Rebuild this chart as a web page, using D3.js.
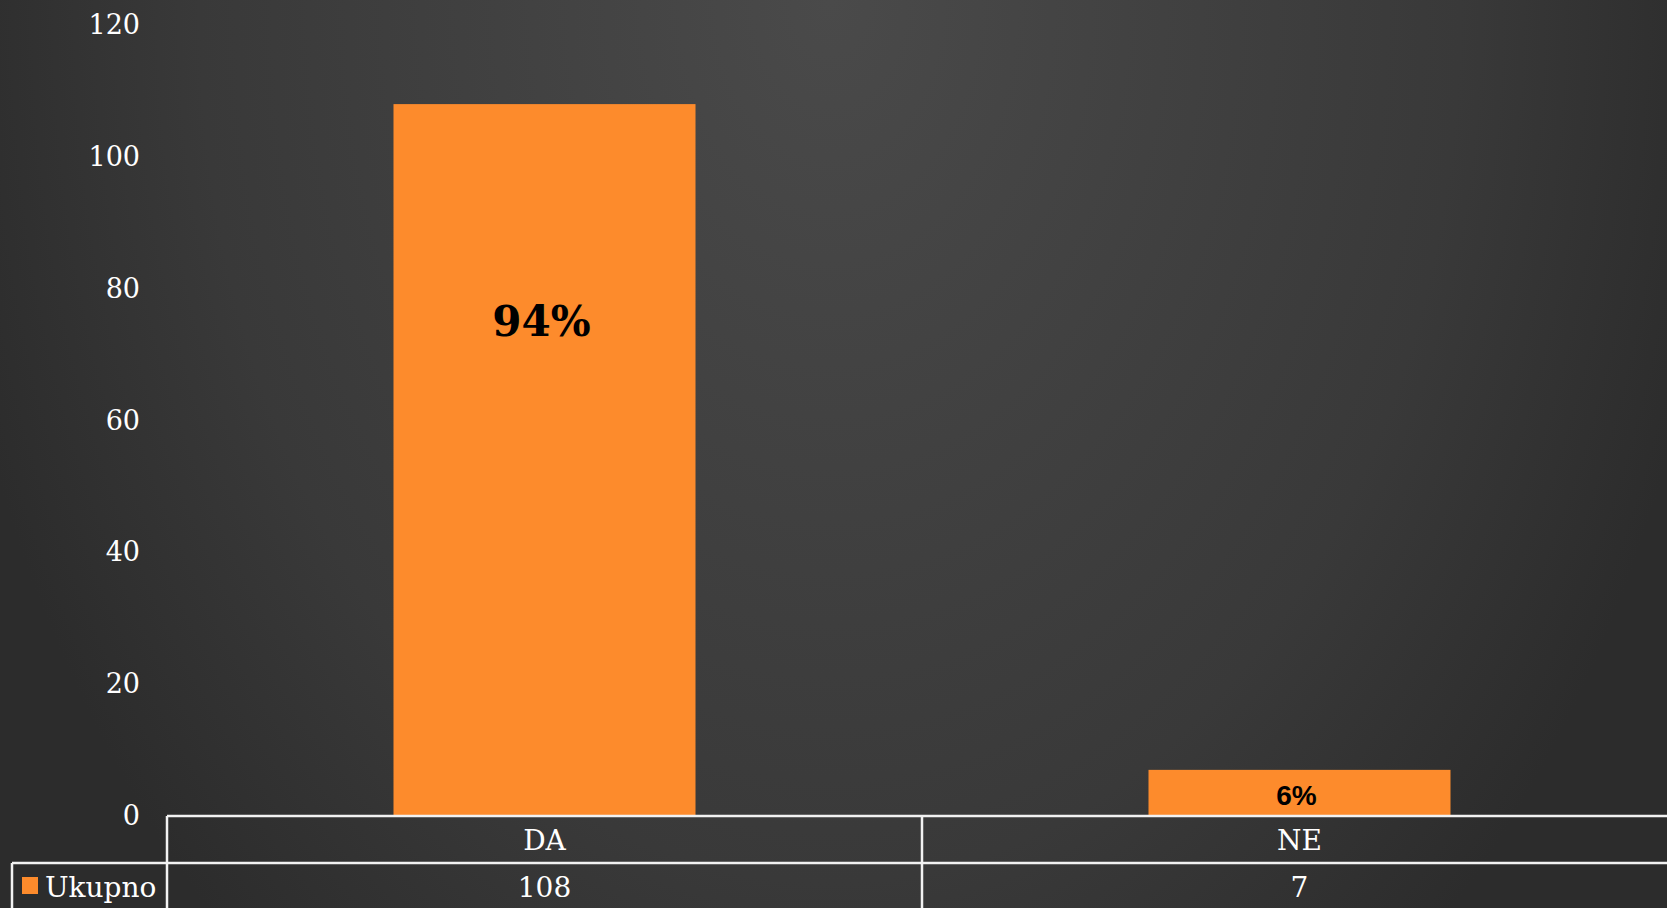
<!DOCTYPE html>
<html>
<head>
<meta charset="utf-8">
<script src="https://cdn.jsdelivr.net/npm/d3@7"></script>
<style>
  html, body { margin: 0; padding: 0; overflow: hidden; background: #333; }
  svg { display: block; }
</style>
</head>
<body>
<div id="chart"></div>
<script>
'use strict';

// data
var categories = ['DA', 'NE'];
var values = [108, 7];
var percents = ['94%', '6%'];
var seriesName = 'Ukupno';
var yTicks = [0, 20, 40, 60, 80, 100, 120];

var width = 1667, height = 908,
    serif = '"DejaVu Serif", serif',
    orange = '#fd8b2c',
    lineColor = '#f2f2f2';

var svg = d3.select('#chart').append('svg')
    .attr('width', width)
    .attr('height', height);

// background, lighter at the top centre, stretched downwards
var grad = svg.append('defs').append('radialGradient')
    .attr('id', 'bg')
    .attr('gradientUnits', 'userSpaceOnUse')
    .attr('cx', 830).attr('cy', 0).attr('r', 900)
    .attr('gradientTransform', 'translate(830,0) scale(1,1.4) translate(-830,0)');
grad.append('stop').attr('offset', '0%').attr('stop-color', '#4a4a4a');
grad.append('stop').attr('offset', '70%').attr('stop-color', '#393939');
grad.append('stop').attr('offset', '100%').attr('stop-color', '#2c2c2c');
svg.append('rect').attr('width', width).attr('height', height).attr('fill', 'url(#bg)');

var x = d3.scaleBand().domain(categories).range([167, 1677]).padding(0),
    y = d3.scaleLinear().domain([0, 120]).range([816, 25]),
    barW = x.bandwidth() * 0.4;

// ================ y axis labels
var yAxis = svg.append('g')
    .attr('transform', 'translate(140,0)')
    .call(d3.axisLeft(y).tickValues(yTicks).tickSize(0).tickPadding(0));
yAxis.select('.domain').remove();
yAxis.selectAll('text')
    .attr('fill', '#ffffff')
    .attr('font-family', serif)
    .attr('font-size', '27px');

// ================ bars
var bars = svg.selectAll('g.bar').data(values).enter()
    .append('g').attr('class', 'bar');
bars.append('rect')
    .attr('x', function(d, i){ return x(categories[i]) + (x.bandwidth() - barW) / 2; })
    .attr('y', function(d){ return y(d); })
    .attr('width', barW)
    .attr('height', function(d){ return y(0) - y(d); })
    .attr('fill', orange);
bars.append('text')
    .attr('x', function(d, i){ return x(categories[i]) + x.bandwidth() / 2 - 3; })
    .attr('y', function(d, i){ return i === 0 ? y(74.5) : (y(d) + y(0)) / 2 + 5; })
    .attr('text-anchor', 'middle')
    .attr('dominant-baseline', 'middle')
    .attr('font-weight', 'bold')
    .attr('font-family', function(d, i){ return i === 0 ? serif : '"Liberation Sans", Arial, sans-serif'; })
    .attr('font-size', function(d, i){ return i === 0 ? '42px' : '28px'; })
    .attr('fill', '#000000')
    .text(function(d, i){ return percents[i]; });

// ================ data table under the axis
var rowTop = 816, rowH = 47, tableRight = 1677;
var tbl = svg.append('g')
    .attr('stroke', lineColor)
    .attr('stroke-width', 2.5)
    .attr('fill', 'none');
tbl.append('line').attr('x1', 167).attr('x2', tableRight).attr('y1', rowTop).attr('y2', rowTop);
tbl.append('line').attr('x1', 12).attr('x2', tableRight).attr('y1', rowTop + rowH).attr('y2', rowTop + rowH);
tbl.append('line').attr('x1', 12).attr('x2', 12).attr('y1', rowTop + rowH).attr('y2', height);
tbl.selectAll('line.div').data(categories).enter().append('line')
    .attr('class', 'div')
    .attr('x1', function(d){ return x(d); })
    .attr('x2', function(d){ return x(d); })
    .attr('y1', rowTop)
    .attr('y2', height);

svg.selectAll('text.cat').data(categories).enter().append('text')
    .attr('class', 'cat')
    .attr('x', function(d){ return x(d) + x.bandwidth() / 2; })
    .attr('y', rowTop + rowH / 2)
    .attr('dy', '0.36em')
    .attr('text-anchor', 'middle')
    .attr('font-family', serif)
    .attr('font-size', '28px')
    .attr('fill', '#ffffff')
    .text(function(d){ return d; });

svg.selectAll('text.val').data(values).enter().append('text')
    .attr('class', 'val')
    .attr('x', function(d, i){ return x(categories[i]) + x.bandwidth() / 2; })
    .attr('y', rowTop + rowH * 1.5)
    .attr('dy', '0.36em')
    .attr('text-anchor', 'middle')
    .attr('font-family', serif)
    .attr('font-size', '28px')
    .attr('fill', '#ffffff')
    .text(function(d){ return d; });

// legend key in the table
svg.append('rect')
    .attr('x', 22).attr('y', 877)
    .attr('width', 16).attr('height', 17)
    .attr('fill', orange);
svg.append('text')
    .attr('x', 45)
    .attr('y', rowTop + rowH * 1.5)
    .attr('dy', '0.36em')
    .attr('font-family', serif)
    .attr('font-size', '28px')
    .attr('fill', '#ffffff')
    .text(seriesName);
</script>
</body>
</html>
